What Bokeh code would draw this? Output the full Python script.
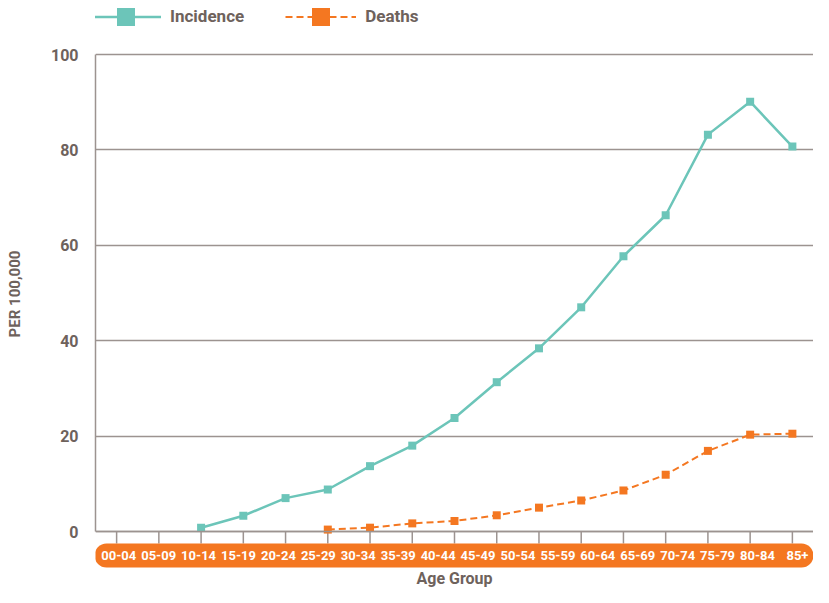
from bokeh.plotting import figure
from bokeh.models import (Range1d, FixedTicker, LinearAxis, Legend, LegendItem,
                          ColumnDataSource)
from bokeh.core.properties import value
from bokeh.embed import file_html
from bokeh.resources import INLINE
import numpy as np

# ---- data ----
age_groups = ["00-04", "05-09", "10-14", "15-19", "20-24", "25-29", "30-34",
              "35-39", "40-44", "45-49", "50-54", "55-59", "60-64", "65-69",
              "70-74", "75-79", "80-84", "85+"]
tick_positions = list(range(17))
incidence = [None, None, 0.8, 3.3, 7.0, 8.8, 13.7, 18.0, 23.8, 31.3, 38.4,
             47.0, 57.7, 66.3, 83.2, 90.1, 80.7]
deaths = [None, None, None, None, None, 0.4, 0.8, 1.7, 2.2, 3.4, 5.0, 6.5,
          8.6, 11.9, 16.9, 20.3, 20.5]
y_ticks = [0, 20, 40, 60, 80, 100]

# ---- styles ----
TEAL = "#6cc5b9"
ORANGE = "#f47721"
TEXT = "#6e625c"
GRID = "#9c9390"
FONT = "Roboto"

W, H = 813, 587
LEFT, RIGHT = 95, 0
px_x = (W - LEFT - RIGHT) / 17.0          # pixels per category
px_y = 4.77                                # pixels per unit
ZERO = 531                                 # canvas row of y = 0
y_top = ZERO / px_y
y_bot = -(H - ZERO) / px_y

p = figure(width=W, height=H, output_backend="svg", toolbar_location=None,
           x_range=Range1d(-0.5, 16.5),
           y_range=Range1d(y_bot, y_top),
           x_axis_location=None, y_axis_location="left",
           min_border_left=LEFT, min_border_right=RIGHT,
           min_border_top=0, min_border_bottom=0)
p.outline_line_color = None
p.background_fill_color = "white"
p.border_fill_color = "white"

# grid
p.xgrid.visible = False
p.ygrid.ticker = FixedTicker(ticks=y_ticks)
p.ygrid.grid_line_color = GRID
p.ygrid.grid_line_width = 1.5

# y axis
ya = p.yaxis[0]
ya.ticker = FixedTicker(ticks=y_ticks)
ya.bounds = (0, 100)
ya.axis_line_color = GRID
ya.axis_line_width = 1.5
ya.major_tick_line_color = None
ya.minor_tick_line_color = None
ya.major_label_standoff = 11
ya.major_label_text_font = FONT
ya.major_label_text_font_style = "bold"
ya.major_label_text_font_size = "16px"
ya.major_label_text_color = TEXT
ya.axis_label = "PER 100,000"
ya.axis_label_text_font = FONT
ya.axis_label_text_font_style = "bold"
ya.axis_label_text_font_size = "15px"
ya.axis_label_text_color = TEXT
ya.axis_label_standoff = 24

# x axis (fixed at y=0), ticks drawn below as short segments
xa = LinearAxis(fixed_location=0, ticker=FixedTicker(ticks=[]))
xa.axis_line_color = GRID
xa.axis_line_width = 1.5
xa.major_tick_in = 0
xa.major_tick_out = 0
xa.minor_tick_line_color = None
xa.major_label_standoff = 0
xa.axis_label = "Age Group"
xa.axis_label_text_font = FONT
xa.axis_label_text_font_style = "bold"
xa.axis_label_text_font_size = "16px"
xa.axis_label_text_color = TEXT
xa.axis_label_standoff = 37
p.add_layout(xa, "below")

tick_len = 12 / px_y
p.segment(x0=tick_positions, y0=[0] * len(tick_positions),
          x1=tick_positions, y1=[-tick_len] * len(tick_positions),
          line_color=GRID, line_width=1.5)

# orange label band (round-capped thick line)
band_y = -24 / px_y
cap = 12 / px_x
p.line(x=[-0.5 - 1 / px_x + cap, 16.5 - cap], y=[band_y, band_y],
       line_width=24, line_color=ORANGE, line_cap="round")
label_x = np.linspace(0.05, 16.12, len(age_groups))
p.text(x=label_x, y=[band_y] * len(age_groups), text=age_groups,
       text_color="white", text_font=value(FONT), text_font_style="bold",
       text_font_size="13px", text_align="center", text_baseline="middle")

# series
src_i = ColumnDataSource(dict(x=tick_positions,
                              y=[np.nan if v is None else v for v in incidence]))
src_d = ColumnDataSource(dict(x=tick_positions,
                              y=[np.nan if v is None else v for v in deaths]))
li = p.line("x", "y", source=src_i, line_color=TEAL, line_width=2.5)
si = p.scatter("x", "y", source=src_i, marker="square", size=8,
               fill_color=TEAL, line_color=None)
ld = p.line("x", "y", source=src_d, line_color=ORANGE, line_width=2,
            line_dash="7 4")
sd = p.scatter("x", "y", source=src_d, marker="square", size=8,
               fill_color=ORANGE, line_color=None)

legend = Legend(items=[LegendItem(label="Incidence", renderers=[li, si]),
                       LegendItem(label="Deaths", renderers=[ld, sd])],
                orientation="horizontal", location=(-5, H - 38.5),
                glyph_width=71, glyph_height=45, label_standoff=9,
                spacing=41, padding=0, margin=0,
                border_line_color=None, background_fill_alpha=0,
                label_text_font=FONT, label_text_font_style="bold",
                label_text_font_size="17px", label_text_color=TEXT)
p.add_layout(legend)

open("out.html", "w").write(file_html(p, INLINE))
